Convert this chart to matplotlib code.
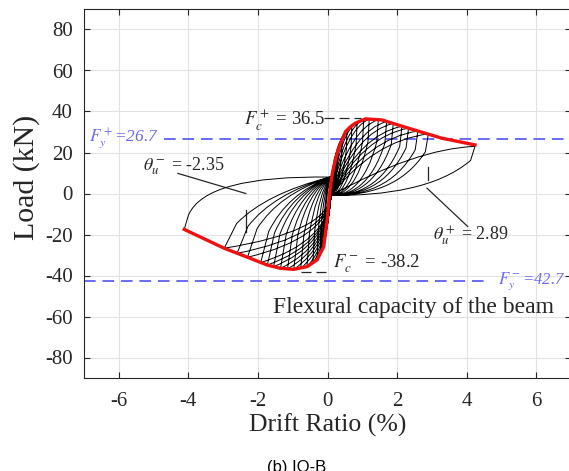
import matplotlib
matplotlib.use('Agg')
from matplotlib import pyplot as plt
from matplotlib.path import Path
from matplotlib.patches import PathPatch

# peaks of each loading cycle (drift %, load kN)
pos_drift = [0.12, 0.2, 0.3, 0.42, 0.56, 0.7, 0.85, 1.04, 1.2, 1.46, 1.7, 1.89, 2.14, 2.33, 2.6, 2.9, 4.24]
pos_load = [8.0, 14.5, 21.0, 26.5, 31.0, 33.0, 34.7, 36.2, 36.3, 36.0, 35.1, 34.2, 32.8, 31.9, 30.5, 29.1, 23.0]
neg_drift = [-0.06, -0.12, -0.2, -0.3, -0.42, -0.59, -0.77, -0.97, -1.15, -1.35, -1.55, -1.73, -1.92, -2.3, -2.6, -2.97, -4.12]
neg_load = [-19.0, -26.5, -29.0, -32.4, -33.8, -35.7, -36.5, -37.0, -36.8, -36.5, -35.7, -34.9, -33.7, -31.1, -29.2, -26.7, -17.5]

# red skeleton curve
env_drift = [-4.12, -2.97, -2.30, -1.73, -1.35, -0.97, -0.59, -0.30, -0.11, -0.01, 0.06, 0.13,
             0.22, 0.32, 0.52, 0.66, 0.80, 1.09, 1.56, 2.32, 3.28, 4.24]
env_load = [-17.5, -26.7, -31.1, -34.9, -36.5, -37.0, -35.7, -32.4, -26.0, -12.9, 0.0, 9.0,
            16.0, 22.1, 30.2, 32.6, 34.3, 36.4, 35.9, 31.9, 27.0, 23.7]

# points near the origin where the branches bunch together
upper_pinch = (0.08, 8.0)
lower_pinch = (0.10, -1.0)

yield_pos = 26.7
yield_neg = -42.7
cap_pos = 36.5
cap_neg = -38.2
theta_pos = 2.89
theta_neg = -2.35

blue = '#6a6af2'
dark = '#262626'

plt.rcParams['font.family'] = ['Liberation Serif', 'DejaVu Serif']
plt.rcParams['mathtext.fontset'] = 'stix'
plt.rcParams['axes.unicode_minus'] = False

fig = plt.figure(figsize=(5.69, 4.71), dpi=100)
ax = fig.add_axes([84 / 569, 93 / 471, 487 / 569, 369 / 471])

# build the hysteresis loops as one path
verts, codes = [lower_pinch], [Path.MOVETO]


def line_to(p):
    verts.append(p)
    codes.append(Path.LINETO)


def quad_to(c, p):
    verts.extend([c, p])
    codes.extend([Path.CURVE3] * 2)


def cubic_to(c1, c2, p):
    verts.extend([c1, c2, p])
    codes.extend([Path.CURVE4] * 3)


n = len(pos_drift)
for i in range(n):
    dp, fp = pos_drift[i], pos_load[i]
    dn, fn = neg_drift[i], neg_load[i]
    line_to(lower_pinch)
    if i == n - 1:
        quad_to((0.6 * dp, 0.95 * fp), (dp, fp))
    else:
        quad_to((0.45 * dp, 0.88 * fp), (dp, fp))
    line_to((0.97 * dp, 0.7 * fp))
    cubic_to((0.75 * dp, 0.12 * fp), (0.4 * dp, lower_pinch[1]), lower_pinch)
    if i == n - 1:
        # the last push to the negative side runs under the skeleton curve
        for d, f in zip(env_drift[::-1], env_load[::-1]):
            if d <= 0.06:
                line_to((d, f))
        line_to((0.97 * dn, 0.6 * fn))
        quad_to((0.85 * dn, upper_pinch[1] + 1), upper_pinch)
    else:
        quad_to((0.0, 0.7 * fn), (dn, fn))
        line_to((0.88 * dn, 0.55 * fn))
        quad_to((0.6 * dn, 0.0), upper_pinch)

ax.add_patch(PathPatch(Path(verts, codes), facecolor='none', edgecolor='black', lw=0.7, zorder=3))

ax.plot(env_drift, env_load, color='#f01010', lw=2.4, solid_joinstyle='round', zorder=4)

# yield lines of the beam
ax.plot([-4.69, 7], [yield_pos, yield_pos], color=blue, lw=1.4, dashes=(6, 3.5), zorder=2)
ax.plot([-7, 4.67], [yield_neg, yield_neg], color=blue, lw=1.4, dashes=(6, 3.5), zorder=2)
ax.text(-6.85, yield_pos, r'$F_y^+$=%.1f' % yield_pos, color=blue, style='italic',
        fontsize=12.5, ha='left', va='center')
ax.text(4.9, yield_neg, r'$F_y^-$=%.1f' % abs(yield_neg), color=blue, style='italic',
        fontsize=12, ha='left', va='center')
ax.text(2.47, -55.4, 'Flexural capacity of the beam', fontsize=17, color=dark,
        ha='center', va='center')

# peak loads
ax.plot([-0.11, 0.95], [36.8, 36.8], color=dark, lw=0.9, dashes=(8, 4))
ax.text(-2.4, 36.0, r'$F_c^+$ = %.1f' % cap_pos, fontsize=13.5, color=dark, ha='left', va='center')
ax.plot([-0.77, 0.0], [cap_neg, cap_neg], color=dark, lw=0.9, dashes=(8, 4))
ax.text(0.15, -34.3, r'$F_c^-$ = %.1f' % cap_neg, fontsize=13.5, color=dark, ha='left', va='center')

# ultimate drifts
ax.plot([theta_neg, theta_neg], [-8, -19], color=dark, lw=0.9)
ax.plot([-4.3, theta_neg], [9.8, 0.0], color=dark, lw=0.9)
ax.text(-5.31, 13.5, r'$\theta_u^-$ = %.2f' % theta_neg, fontsize=13, color=dark, ha='left', va='center')
ax.plot([theta_pos, theta_pos], [6.8, 12.7], color=dark, lw=0.9)
ax.plot([2.86, 4.03], [2.6, -16.1], color=dark, lw=0.9)
ax.text(3.04, -20.7, r'$\theta_u^+$ = %.2f' % theta_pos, fontsize=13, color=dark, ha='left', va='center')

ax.set_xlim(-7, 7)
ax.set_ylim(-90, 90)
ax.set_xticks(range(-6, 7, 2))
ax.set_yticks(range(-80, 81, 20))
ax.grid(True, color='#e2e2e2', lw=0.8)
ax.set_axisbelow(True)
for s in ax.spines.values():
    s.set_color(dark)
    s.set_linewidth(0.8)
ax.tick_params(direction='in', top=True, right=True, length=4, width=0.8,
               color=dark, labelcolor=dark, labelsize=15)
ax.tick_params(axis='x', pad=10)
ax.tick_params(axis='y', pad=8)
ax.set_xlabel('Drift Ratio (%)', fontsize=18.5, color=dark, labelpad=2)
ax.set_ylabel('Load (kN)', fontsize=21.5, color=dark)
ax.yaxis.set_label_coords(-0.09, 0.545)

fig.text(297 / 569, 1 - 460 / 471, '(b) IO-B', family='Liberation Sans', fontsize=12,
         ha='center', va='top')

fig.savefig('out.png', dpi=100)
